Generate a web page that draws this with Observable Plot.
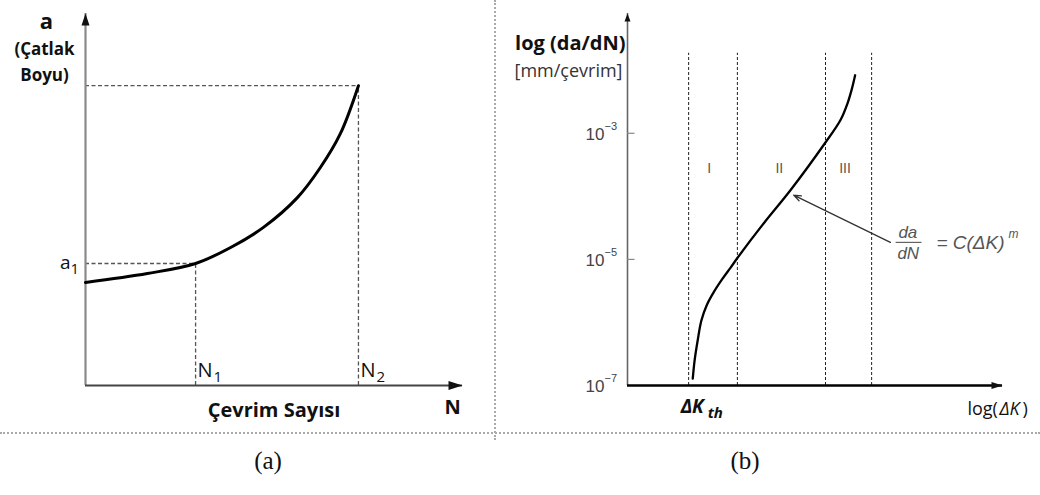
<!DOCTYPE html>
<html><head><meta charset="utf-8">
<script src="https://cdn.jsdelivr.net/npm/d3@7"></script>
<script src="https://cdn.jsdelivr.net/npm/@observablehq/plot@0.6"></script>
<style>
html,body{margin:0;padding:0;background:#fff;}
#fig{position:relative;width:1040px;height:495px;overflow:hidden;background:#fff;}
#pa{position:absolute;left:0;top:0;}
#pb{position:absolute;left:496px;top:0;}
#vsep{position:absolute;left:494px;top:0;width:0;height:440px;border-left:2px dotted #aaa;}
#hsep{position:absolute;left:0;top:432px;width:1040px;height:0;border-top:2px dotted #aaa;}
.cap{position:absolute;top:445px;width:100px;text-align:center;font-family:"Liberation Serif",serif;font-size:25px;line-height:32px;color:#111;}
</style></head><body>
<div id="fig">
  <div id="vsep"></div>
  <div id="hsep"></div>
  <div id="pa"></div>
  <div id="pb"></div>
  <div class="cap" style="left:218px">(a)</div>
  <div class="cap" style="left:695px">(b)</div>
</div>
<script>
// ---------- Panel (a): crack length vs number of cycles ----------
const cycleN = [0, 0.164, 0.292, 0.385, 0.472, 0.562, 0.623, 0.676, 0.724];
const crackA = [0.277, 0.301, 0.328, 0.371, 0.425, 0.505, 0.586, 0.677, 0.806];
const markN = [0.292, 0.724];          // N1, N2
const markA = [0.328, 0.806];          // a1, a2
const markSub = ["1", "2"];
const aTitleLines = ["a", "(Çatlak", "Boyu)"];
const aXTitle = "Çevrim Sayısı";
const aXEnd = "N";

// ---------- Panel (b): log(da/dN) vs log(ΔK) ----------
const logDK   = [1.74, 1.79, 1.87, 1.97, 2.11, 2.30, 2.53, 2.75, 2.94, 3.63, 4.35, 5.25, 5.68, 5.87, 5.99, 6.07];
const logRate = [-6.89, -6.60, -6.29, -5.97, -5.73, -5.52, -5.31, -5.13, -4.97, -4.43, -3.90, -3.17, -2.79, -2.52, -2.28, -2.08];
const regionBounds = [1.63, 2.93, 5.28, 6.51];
const regionLabels = ["I", "II", "III"];
const regionLabelX = [2.18, 4.05, 5.8];
const rateTicks = [-7, -5, -3];
const parisFrom = [7.01, -4.73];
const parisTo = [4.43, -3.98];

function head(len, half) {
  return {draw(c) { c.moveTo(0, 0); c.lineTo(-half, len); c.lineTo(half, len); c.closePath(); }};
}

const curveA = cycleN.map((n, i) => ({n, a: crackA[i]}));
const guides = markN.map((n, i) => ({n, a: markA[i], sub: markSub[i]}));

const pa = Plot.plot({
  width: 496, height: 433,
  marginLeft: 85, marginRight: 34, marginTop: 13, marginBottom: 48,
  x: {domain: [0, 1], axis: null},
  y: {domain: [0, 1], axis: null},
  style: {fontFamily: "'Open Sans', sans-serif", background: "transparent", overflow: "visible", color: "#111"},
  marks: [
    Plot.ruleY(guides, {y: "a", x1: 0, x2: "n", stroke: "#555", strokeWidth: 1.3, strokeDasharray: "4,2.5"}),
    Plot.ruleX(guides, {x: "n", y1: 0, y2: "a", stroke: "#555", strokeWidth: 1.3, strokeDasharray: "4,2.5"}),
    Plot.ruleX([0], {stroke: "#8a8a8a", strokeWidth: 2.2}),
    Plot.ruleY([0], {stroke: "#444", strokeWidth: 2.2}),
    Plot.dot([0], {x: 0, y: 1, symbol: head(12, 4), r: 4, fill: "#111", stroke: null}),
    Plot.dot([0], {x: 1, y: 0, symbol: head(14, 4.5), r: 4, fill: "#111", stroke: null, rotate: 90}),
    Plot.line(curveA, {x: "n", y: "a", curve: "catmull-rom", stroke: "#000", strokeWidth: 3}),
    // y title (three lines)
    Plot.text([aTitleLines[0]], {x: 0, y: 1, text: d => d, dx: -39, dy: 8, fontWeight: "bold", fontSize: 22}),
    Plot.text([aTitleLines[1]], {x: 0, y: 1, text: d => d, dx: -41, dy: 36, fontWeight: "bold", fontSize: 17}),
    Plot.text([aTitleLines[2]], {x: 0, y: 1, text: d => d, dx: -41, dy: 62, fontWeight: "bold", fontSize: 17}),
    // a1 label
    Plot.text([guides[0]], {x: 0, y: "a", text: () => "a", textAnchor: "end", dx: -15, dy: -1, fontSize: 19}),
    Plot.text([guides[0]], {x: 0, y: "a", text: "sub", textAnchor: "start", dx: -15, dy: 6, fontSize: 15}),
    // N1, N2 labels
    Plot.text(guides, {x: "n", y: 0, text: () => "N", textAnchor: "start", dx: 2, dy: -15, fontSize: 20}),
    Plot.text(guides, {x: "n", y: 0, text: "sub", textAnchor: "start", dx: 18, dy: -8, fontSize: 15}),
    // x titles
    Plot.text([aXTitle], {x: 0.5, y: 0, text: d => d, dy: 25, fontWeight: "bold", fontSize: 20}),
    Plot.text([aXEnd], {x: 1, y: 0, text: d => d, dx: -10, dy: 22, fontWeight: "bold", fontSize: 20})
  ]
});
document.getElementById("pa").append(pa);

const curveB = logDK.map((k, i) => ({k, r: logRate[i]}));
const regions = regionLabels.map((t, i) => ({t, x: regionLabelX[i]}));
const sans = "'Liberation Sans', Arial, sans-serif";

const pb = Plot.plot({
  width: 544, height: 433,
  marginLeft: 131, marginRight: 38, marginTop: 13, marginBottom: 48,
  x: {domain: [0, 10], axis: null},
  y: {domain: [-7, -1.1], axis: null},
  style: {fontFamily: "'Open Sans', sans-serif", background: "transparent", overflow: "visible", color: "#111"},
  marks: [
    Plot.ruleX(regionBounds, {y1: -7, y2: -1.73, stroke: "#222", strokeWidth: 1, strokeDasharray: "3,2"}),
    Plot.ruleX([0], {stroke: "#666", strokeWidth: 1.6}),
    Plot.ruleY([-7], {stroke: "#000", strokeWidth: 2.5}),
    Plot.dot([0], {x: 0, y: -1.1, symbol: head(8, 3), r: 3, fill: "#111", stroke: null}),
    Plot.dot([0], {x: 10, y: -7, symbol: head(11, 3.5), r: 3, fill: "#111", stroke: null, rotate: 90}),
    // y ticks
    Plot.ruleY(rateTicks.filter(t => t > -7), {y: d => d, x1: 0, x2: 0.2, stroke: "#888", strokeWidth: 1.2}),
    Plot.text(rateTicks, {x: 0, y: d => d, text: () => "10", textAnchor: "end", dx: -23, dy: 1, fontFamily: sans, fontSize: 17, fill: "#444"}),
    Plot.text(rateTicks, {x: 0, y: d => d, text: d => "\u2212" + Math.abs(d), textAnchor: "start", dx: -23, dy: -7, fontFamily: sans, fontSize: 11, fill: "#444"}),
    // y title
    Plot.text(["log (da/dN)"], {x: 0, y: -1.1, text: d => d, textAnchor: "end", dx: -2, dy: 30, fontWeight: "bold", fontSize: 20}),
    Plot.text(["[mm/çevrim]"], {x: 0, y: -1.1, text: d => d, textAnchor: "end", dx: -5, dy: 58, fontSize: 18, fill: "#333"}),
    // region labels
    Plot.text(regions, {x: "x", y: -3.56, text: "t", fontFamily: sans, fontSize: 14, fill: "#555"}),
    // curve
    Plot.line(curveB, {x: "k", y: "r", curve: "catmull-rom", stroke: "#000", strokeWidth: 2.3}),
    // Paris-law annotation
    Plot.arrow([0], {x1: parisFrom[0], y1: parisFrom[1], x2: parisTo[0], y2: parisTo[1], stroke: "#333", strokeWidth: 1.3, headLength: 9, headAngle: 40}),
    Plot.link([0], {x1: parisFrom[0] + 0.14, y1: parisFrom[1], x2: parisFrom[0] + 0.83, y2: parisFrom[1], stroke: "#555", strokeWidth: 1.1}),
    Plot.text(["da"], {x: parisFrom[0], y: parisFrom[1], text: d => d, textAnchor: "start", dx: 8, dy: -10, fontFamily: sans, fontStyle: "italic", fontSize: 17, fill: "#555"}),
    Plot.text(["dN"], {x: parisFrom[0], y: parisFrom[1], text: d => d, textAnchor: "start", dx: 7, dy: 11, fontFamily: sans, fontStyle: "italic", fontSize: 17, fill: "#555"}),
    Plot.text(["= C(\u0394K)"], {x: parisFrom[0], y: parisFrom[1], text: d => d, textAnchor: "start", dx: 46, dy: 1, fontFamily: sans, fontStyle: "italic", fontSize: 19, fill: "#555"}),
    Plot.text(["m"], {x: parisFrom[0], y: parisFrom[1], text: d => d, textAnchor: "start", dx: 118, dy: -8, fontFamily: sans, fontStyle: "italic", fontSize: 12, fill: "#555"}),
    // x labels
    Plot.text(["\u0394K"], {x: regionBounds[0], y: -7, text: d => d, textAnchor: "start", dx: -8, dy: 21, fontWeight: "bold", fontStyle: "italic", fontSize: 19}),
    Plot.text(["th"], {x: regionBounds[0], y: -7, text: d => d, textAnchor: "start", dx: 19, dy: 28, fontWeight: "bold", fontStyle: "italic", fontSize: 15}),
    Plot.text(["log"], {x: 10, y: -7, text: d => d, textAnchor: "start", dx: -35, dy: 24, fontSize: 18}),
    Plot.text(["("], {x: 10, y: -7, text: d => d, textAnchor: "start", dx: -10, dy: 24, fontSize: 18}),
    Plot.text(["\u0394K"], {x: 10, y: -7, text: d => d, textAnchor: "start", dx: -3, dy: 24, fontStyle: "italic", fontSize: 18}),
    Plot.text([")"], {x: 10, y: -7, text: d => d, textAnchor: "start", dx: 20, dy: 24, fontSize: 18})
  ]
});
document.getElementById("pb").append(pb);
</script>
</body></html>
